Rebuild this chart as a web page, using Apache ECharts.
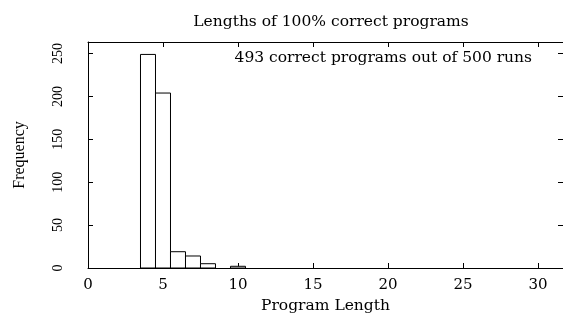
<!DOCTYPE html>
<html>
<head>
<meta charset="utf-8">
<script src="https://cdn.jsdelivr.net/npm/echarts@6/dist/echarts.min.js"></script>
<style>
  html, body { margin: 0; padding: 0; background: #fff; }
  #chart { width: 563px; height: 314px; }
</style>
</head>
<body>
<div id="chart"></div>
<script>
// histogram data: program length -> count
const lengths = [4, 5, 6, 7, 8, 10];
const counts = [249, 204, 19, 14, 5, 2];
const xTicks = [0, 5, 10, 15, 20, 25, 30];
const yTicks = [0, 50, 100, 150, 200, 250];

const wide = 'DejaVu Serif';
const narrow = 'Liberation Serif';
const xMax = 31.67;
const yMax = 263.5;

const chart = echarts.init(document.getElementById('chart'));

// only label the round ticks, not the axis end
const hideOffTicks = (list) => (v) => list.indexOf(v) >= 0 ? String(v) : '';

function axis(extra) {
    return Object.assign({
        type: 'value',
        splitLine: { show: false },
        axisLine: { show: true, onZero: false, lineStyle: { color: '#000', width: 1 } },
        axisTick: { show: true, inside: true, interval: 0, length: 5, lineStyle: { color: '#000', width: 1 } }
    }, extra);
}

chart.setOption({
    animation: false,
    title: {
        text: 'Lengths of 100% correct programs',
        left: 326, top: 9, textAlign: 'center',
        textStyle: { fontFamily: wide, fontSize: 15.5, fontWeight: 'normal', color: '#000' }
    },
    grid: { left: 88, top: 42, width: 475, height: 226, outerBoundsMode: 'none', containLabel: false },
    xAxis: [
        axis({
            min: 0, max: xMax, interval: 5,
            name: 'Program Length', nameLocation: 'middle', nameGap: 30,
            nameTextStyle: { fontFamily: wide, fontSize: 15.5, color: '#000' },
            axisLabel: { fontFamily: wide, fontSize: 15, color: '#000', margin: 10, interval: 0,
                formatter: hideOffTicks(xTicks), showMaxLabel: false }
        }),
        axis({
            min: 0, max: xMax, interval: 5, position: 'top',
            axisLabel: { show: false }
        })
    ],
    yAxis: [
        axis({
            min: 0, max: yMax, interval: 50,
            name: 'Frequency', nameLocation: 'middle', nameGap: 60, nameRotate: 90,
            nameTextStyle: { fontFamily: narrow, fontSize: 16, color: '#000' },
            axisLabel: { fontFamily: narrow, fontSize: 14, color: '#000', rotate: 90, margin: 23, interval: 0,
                formatter: hideOffTicks(yTicks), showMaxLabel: false }
        }),
        axis({
            min: 0, max: yMax, interval: 50, position: 'right',
            axisLine: { show: false, onZero: false },
            axisLabel: { show: false }
        })
    ],
    graphic: [{
        type: 'text', right: 31, top: 50,
        style: { text: '493 correct programs out of 500 runs', fontFamily: wide, fontSize: 15.5, fill: '#000' }
    }],
    series: [{
        type: 'custom',
        xAxisIndex: 0, yAxisIndex: 0,
        data: lengths.map((l, i) => [l, counts[i]]),
        renderItem: function (params, api) {
            const x = api.value(0);
            const y = api.value(1);
            const p0 = api.coord([x - 0.5, 0]);
            const p1 = api.coord([x + 0.5, y]);
            return {
                type: 'rect',
                shape: { x: p0[0], y: p1[1], width: p1[0] - p0[0], height: p0[1] - p1[1] },
                style: { fill: '#fff', stroke: '#000', lineWidth: 1 }
            };
        }
    }]
});
</script>
</body>
</html>
